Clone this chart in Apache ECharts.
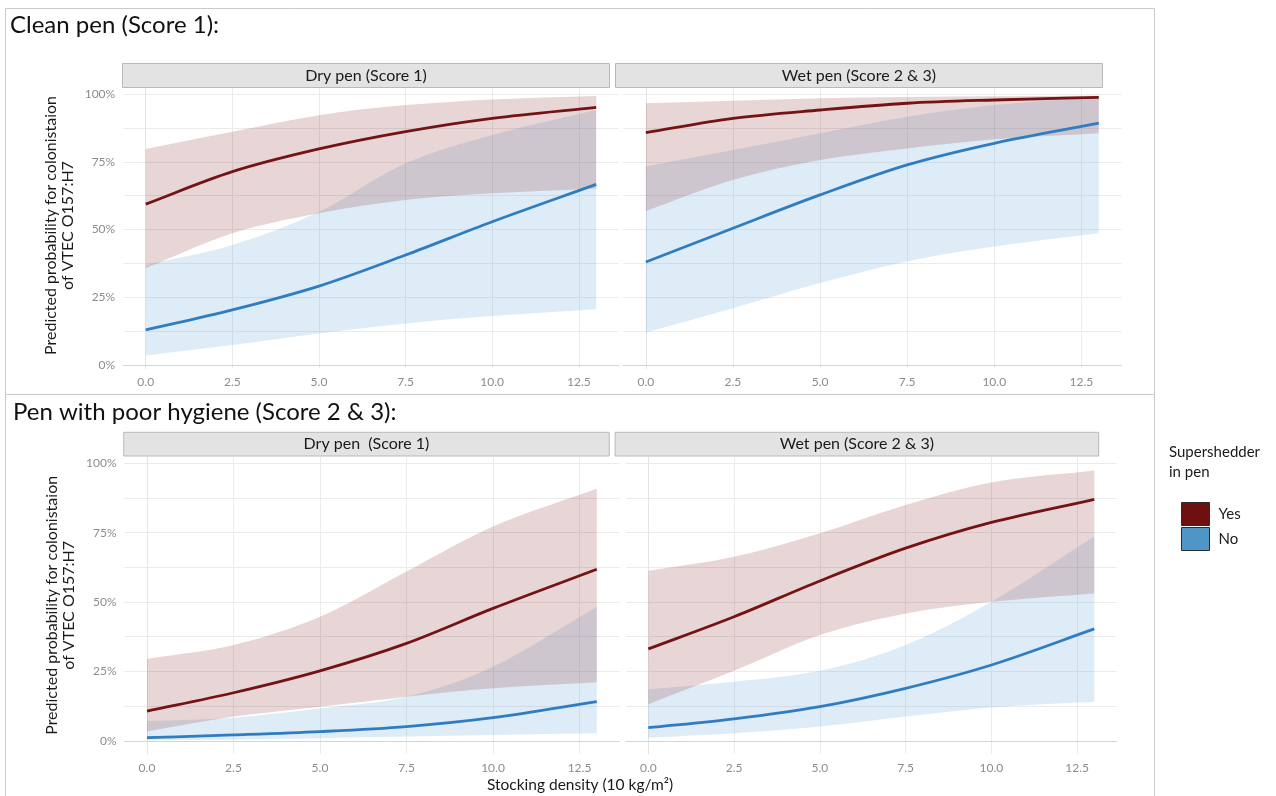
<!DOCTYPE html>
<html>
<head>
<meta charset="utf-8">
<script src="https://cdn.jsdelivr.net/npm/echarts@6/dist/echarts.min.js"></script>
<style>
  html, body { margin: 0; padding: 0; background: #ffffff; }
  #chart { width: 1276px; height: 796px; }
</style>
</head>
<body>
<div id="chart"></div>
<script>
// Stocking density (10 kg/m²) at which predictions are read
const density = [0, 2.5, 5, 7.5, 10, 13];
const xTicks = [0, 2.5, 5, 7.5, 10, 12.5];
const yTicks = [0, 25, 50, 75, 100];
const yGridLines = [0, 12.5, 25, 37.5, 50, 62.5, 75, 87.5, 100];

const sectionTitles = ['Clean pen (Score 1):', 'Pen with poor hygiene (Score 2 & 3):'];
const facetTitles = ['Dry pen (Score 1)', 'Wet pen (Score 2 & 3)', 'Dry pen  (Score 1)', 'Wet pen (Score 2 & 3)'];
const groups = ['Yes', 'No'];

// Predicted probability (%) with lower / upper confidence limits
// Clean pen, dry pen
const cleanDryYes   = [59.4, 71.4, 79.8, 86.2, 91.1, 95.2];
const cleanDryYesLo = [35.7, 48.6, 56.0, 60.9, 63.4, 65.2];
const cleanDryYesHi = [79.8, 86.2, 92.3, 96.0, 98.1, 99.4];
const cleanDryNo    = [12.9, 20.3, 29.1, 40.6, 52.9, 66.7];
const cleanDryNoLo  = [3.4, 7.3, 11.6, 15.3, 18.0, 20.5];
const cleanDryNoHi  = [36.9, 44.3, 56.6, 74.5, 85.0, 94.2];
// Clean pen, wet pen
const cleanWetYes   = [85.8, 91.1, 94.2, 96.7, 97.9, 98.9];
const cleanWetYesLo = [56.9, 68.3, 75.7, 80.0, 83.4, 85.6];
const cleanWetYesHi = [96.7, 97.6, 98.5, 99.0, 99.3, 99.5];
const cleanWetNo    = [38.0, 50.5, 62.8, 73.9, 81.9, 89.3];
const cleanWetNoLo  = [11.9, 20.9, 30.2, 38.2, 43.7, 48.6];
const cleanWetNoHi  = [73.3, 79.4, 85.6, 91.7, 96.0, 99.1];
// Poor hygiene, dry pen
const poorDryYes    = [10.7, 17.3, 25.2, 35.1, 47.7, 61.8];
const poorDryYesLo  = [3.3, 8.7, 12.3, 15.9, 18.9, 21.1];
const poorDryYesHi  = [29.5, 34.5, 44.7, 61.0, 77.2, 90.8];
const poorDryNo     = [1.1, 2.1, 3.3, 5.1, 8.3, 14.1];
const poorDryNoLo   = [0.2, 0.4, 0.9, 1.5, 2.1, 2.7];
const poorDryNoHi   = [7.1, 8.3, 11.7, 15.9, 26.7, 48.3];
// Poor hygiene, wet pen
const poorWetYes    = [33.1, 44.7, 57.6, 69.4, 78.7, 87.0];
const poorWetYesLo  = [13.2, 25.2, 38.1, 45.9, 50.1, 53.1];
const poorWetYesHi  = [61.3, 66.3, 74.8, 85.0, 93.1, 97.4];
const poorWetNo     = [4.7, 7.9, 12.3, 18.9, 27.3, 40.3];
const poorWetNoLo   = [1.1, 2.7, 5.1, 8.7, 12.0, 14.1];
const poorWetNoHi   = [18.6, 21.3, 25.2, 34.5, 50.1, 73.6];

const facets = [
  { yes: cleanDryYes, yesLo: cleanDryYesLo, yesHi: cleanDryYesHi, no: cleanDryNo, noLo: cleanDryNoLo, noHi: cleanDryNoHi },
  { yes: cleanWetYes, yesLo: cleanWetYesLo, yesHi: cleanWetYesHi, no: cleanWetNo, noLo: cleanWetNoLo, noHi: cleanWetNoHi },
  { yes: poorDryYes, yesLo: poorDryYesLo, yesHi: poorDryYesHi, no: poorDryNo, noLo: poorDryNoLo, noHi: poorDryNoHi },
  { yes: poorWetYes, yesLo: poorWetYesLo, yesHi: poorWetYesHi, no: poorWetNo, noLo: poorWetNoLo, noHi: poorWetNoHi }
];

// ---- styling / layout ----
const FONT = 'Lato';
const RED_LINE = '#741313';
const BLUE_LINE = '#2f7dc0';
const RED_BAND = 'rgba(130, 30, 30, 0.18)';
const BLUE_BAND = 'rgba(90, 160, 215, 0.20)';
const GRID_COLOR = '#ebebeb';

const panels = [
  { left: 123.2, width: 495.5, top: 82.4, height: 286.2, yMin: -1.4, yMax: 104.4, strip: [122.5, 63.5, 487, 24] },
  { left: 623.2, width: 498.2, top: 82.4, height: 286.2, yMin: -1.4, yMax: 104.4, strip: [615.5, 63.5, 487, 24] },
  { left: 124.5, width: 494.8, top: 456.9, height: 296.9, yMin: -4.7, yMax: 102.3, strip: [123.7, 432.3, 485.5, 23.7] },
  { left: 626.0, width: 490.6, top: 456.9, height: 296.9, yMin: -4.7, yMax: 102.3, strip: [615.1, 432.3, 483.6, 23.7] }
];

// smooth cubic segments through pixel points (x monotone)
function curveSegments(pts) {
  const n = pts.length;
  const slope = pts.map((p, i) => {
    const a = pts[Math.max(i - 1, 0)], b = pts[Math.min(i + 1, n - 1)];
    return (b[1] - a[1]) / (b[0] - a[0]);
  });
  let d = '';
  for (let i = 0; i < n - 1; i++) {
    const p = pts[i], q = pts[i + 1];
    const h = q[0] - p[0];
    d += ' C' + (p[0] + h / 3) + ',' + (p[1] + slope[i] * h / 3) + ' ' +
         (q[0] - h / 3) + ',' + (q[1] - slope[i + 1] * h / 3) + ' ' + q[0] + ',' + q[1];
  }
  return d;
}

// confidence ribbon between lo and hi
function bandSeries(idx, lo, hi, color) {
  return {
    type: 'custom',
    xAxisIndex: idx, yAxisIndex: idx,
    silent: true,
    z: 1,
    data: [[density[0], lo[0]]],
    renderItem: function (params, api) {
      const up = density.map((x, i) => api.coord([x, hi[i]]));
      const dn = density.map((x, i) => api.coord([x, lo[i]])).reverse();
      const d = 'M' + up[0][0] + ',' + up[0][1] + curveSegments(up) +
                ' L' + dn[0][0] + ',' + dn[0][1] + curveSegments(dn) + ' Z';
      return { type: 'path', shape: { pathData: d }, style: { fill: color, stroke: null } };
    }
  };
}

// predicted probability curve
function lineSeries(idx, name, ys, color) {
  return {
    type: 'custom', name: name,
    xAxisIndex: idx, yAxisIndex: idx,
    silent: true,
    z: 3,
    itemStyle: { color: color },
    data: [[density[0], ys[0]]],
    renderItem: function (params, api) {
      const pts = density.map((x, i) => api.coord([x, ys[i]]));
      const d = 'M' + pts[0][0] + ',' + pts[0][1] + curveSegments(pts);
      return { type: 'path', shape: { pathData: d }, style: { fill: null, stroke: color, lineWidth: 2.8, lineCap: 'butt', lineJoin: 'round' } };
    }
  };
}

const grids = [], xAxes = [], yAxes = [], series = [];
panels.forEach((p, i) => {
  grids.push({ left: p.left, top: p.top, width: p.width, height: p.height, containLabel: false });
  xAxes.push({
    type: 'value', gridIndex: i, min: -0.65, max: 13.65,
    axisLine: { show: true, lineStyle: { color: '#d4d4d4', width: 1 } },
    axisTick: { show: false, customValues: xTicks },
    axisLabel: {
      customValues: xTicks, color: '#8c8c8c', fontFamily: FONT, fontSize: 12, margin: 8,
      formatter: v => Number(v).toFixed(1)
    },
    splitLine: { show: true, lineStyle: { color: GRID_COLOR, width: 1 } }
  });
  yAxes.push({
    type: 'value', gridIndex: i, min: p.yMin, max: p.yMax,
    name: i % 2 === 0 ? 'Predicted probability for colonistaion\nof VTEC O157:H7' : '',
    nameLocation: 'middle', nameRotate: 90, nameGap: 47,
    nameTextStyle: { color: '#1a1a1a', fontFamily: FONT, fontSize: 16, lineHeight: 17 },
    axisLine: { show: true, lineStyle: { color: '#e4e4e4', width: 1 } },
    axisTick: { show: false, customValues: yGridLines },
    axisLabel: {
      show: i % 2 === 0,
      customValues: yTicks, color: '#8c8c8c', fontFamily: FONT, fontSize: 12, margin: 8,
      formatter: v => Math.round(v) + '%'
    },
    splitLine: { show: true, lineStyle: { color: GRID_COLOR, width: 1 } }
  });
  const f = facets[i];
  series.push(bandSeries(i, f.noLo, f.noHi, BLUE_BAND));
  series.push(bandSeries(i, f.yesLo, f.yesHi, RED_BAND));
  series.push(lineSeries(i, groups[1], f.no, BLUE_LINE));
  series.push(lineSeries(i, groups[0], f.yes, RED_LINE));
});

// section frames, facet strips and free-standing texts
const graphics = [
  { type: 'rect', shape: { x: 5.5, y: 8.5, width: 1149, height: 386 }, style: { fill: null, stroke: '#c9c9c9', lineWidth: 1 }, z: -10 },
  { type: 'rect', shape: { x: 5.5, y: 394.5, width: 1149, height: 410 }, style: { fill: null, stroke: '#c9c9c9', lineWidth: 1 }, z: -10 },
  { type: 'text', x: 10, y: 25, style: { text: sectionTitles[0], fill: '#111', font: '24px ' + FONT, textVerticalAlign: 'middle' } },
  { type: 'text', x: 13, y: 412, style: { text: sectionTitles[1], fill: '#111', font: '24px ' + FONT, textVerticalAlign: 'middle' } },
  { type: 'text', x: 580, y: 785, style: { text: 'Stocking density (10 kg/m²)', fill: '#1a1a1a', font: '15.5px ' + FONT, textAlign: 'center', textVerticalAlign: 'middle' } },
  { type: 'text', x: 1169, y: 452, style: { text: 'Supershedder', fill: '#1a1a1a', font: '15px ' + FONT, textVerticalAlign: 'middle' } },
  { type: 'text', x: 1169, y: 472, style: { text: 'in pen', fill: '#1a1a1a', font: '15px ' + FONT, textVerticalAlign: 'middle' } }
];
panels.forEach((p, i) => {
  const s = p.strip;
  graphics.push({ type: 'rect', shape: { x: s[0], y: s[1], width: s[2], height: s[3] }, style: { fill: '#e3e3e3', stroke: '#b9b9b9', lineWidth: 1 }, z: 10 });
  graphics.push({ type: 'text', x: s[0] + s[2] / 2, y: s[1] + s[3] / 2, style: { text: facetTitles[i], fill: '#1a1a1a', font: '16px ' + FONT, textAlign: 'center', textVerticalAlign: 'middle' }, z: 11 });
});

const chart = echarts.init(document.getElementById('chart'), null, { renderer: 'canvas' });
chart.setOption({
  backgroundColor: '#ffffff',
  animation: false,
  textStyle: { fontFamily: FONT },
  grid: grids,
  xAxis: xAxes,
  yAxis: yAxes,
  legend: {
    orient: 'vertical', left: 1181, top: 502, padding: 0,
    itemWidth: 28, itemHeight: 23, itemGap: 1,
    icon: 'rect',
    selectedMode: false,
    textStyle: { color: '#1a1a1a', fontFamily: FONT, fontSize: 15, padding: [0, 0, 0, 4] },
    data: [
      { name: groups[0], itemStyle: { color: '#6e0f10', borderColor: '#2b2b2b', borderWidth: 1 } },
      { name: groups[1], itemStyle: { color: '#4f95c5', borderColor: '#2b2b2b', borderWidth: 1 } }
    ]
  },
  graphic: { elements: graphics },
  series: series
});
</script>
</body>
</html>
